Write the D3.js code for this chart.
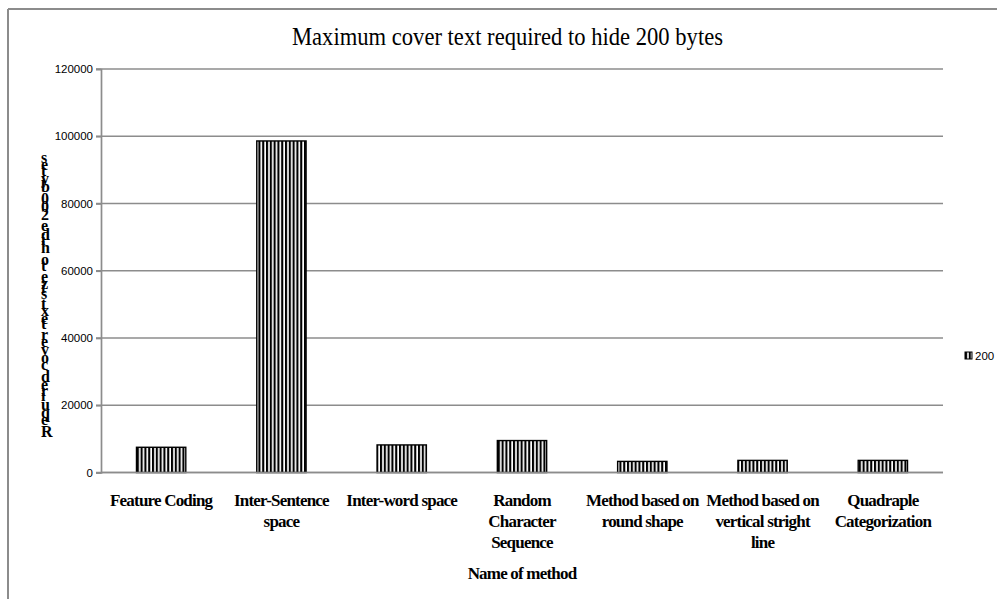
<!DOCTYPE html>
<html>
<head>
<meta charset="utf-8">
<script src="https://cdn.jsdelivr.net/npm/d3@7"></script>
<style>
  body { margin: 0; background: #fff; }
  svg { display: block; }
</style>
</head>
<body>
<script>
// chart data
let categories = [
  'Feature Coding',
  'Inter-Sentence space',
  'Inter-word space',
  'Random Character Sequence',
  'Method based on round shape',
  'Method based on vertical stright line',
  'Quadraple Categorization'
];
let labelLines = [
  ['Feature Coding'],
  ['Inter-Sentence', 'space'],
  ['Inter-word space'],
  ['Random', 'Character', 'Sequence'],
  ['Method based on', 'round shape'],
  ['Method based on', 'vertical stright', 'line'],
  ['Quadraple', 'Categorization']
];
let values = [7500, 98600, 8200, 9500, 3300, 3600, 3600];
let yTicks = [0, 20000, 40000, 60000, 80000, 100000, 120000];
let seriesName = '200';

let width = 997, height = 599;
let margin = {top: 69, right: 54, bottom: 126.5, left: 101};

let serif = 'Liberation Serif, Times New Roman, serif';
let sans = 'Liberation Sans, Arial, sans-serif';

let svg = d3.select('body').append('svg')
  .attr('width', width)
  .attr('height', height);

// stripe pattern
let defs = svg.append('defs');
let pat = defs.append('pattern')
  .attr('id', 'stripes')
  .attr('patternUnits', 'userSpaceOnUse')
  .attr('width', 3.8)
  .attr('height', 10);
pat.append('rect').attr('width', 3.8).attr('height', 10).attr('fill', '#fff');
pat.append('rect').attr('x', 0).attr('width', 2.1).attr('height', 10).attr('fill', '#000');

// outer frame (top and left edges visible)
svg.append('line').attr('x1', 8).attr('x2', width).attr('y1', 9).attr('y2', 9)
  .attr('stroke', '#8c8c8c').attr('stroke-width', 2);
svg.append('line').attr('x1', 8).attr('x2', 8).attr('y1', 9).attr('y2', height)
  .attr('stroke', '#8c8c8c').attr('stroke-width', 2);

let x = d3.scaleBand()
  .domain(categories)
  .range([margin.left, width - margin.right])
  .paddingInner(0.59)
  .paddingOuter(0.295);

let y = d3.scaleLinear()
  .domain([0, 120000])
  .range([height - margin.bottom, margin.top]);

// gridlines
svg.append('g')
  .selectAll('line')
  .data(yTicks)
  .enter().append('line')
  .attr('x1', margin.left - 5)
  .attr('x2', width - margin.right)
  .attr('y1', d => y(d))
  .attr('y2', d => y(d))
  .attr('stroke', '#8c8c8c')
  .attr('stroke-width', 1.7);

// y axis
let yAxis = svg.append('g')
  .attr('transform', 'translate(' + margin.left + ',0)')
  .call(d3.axisLeft(y).tickValues(yTicks).tickSize(5).tickPadding(3).tickFormat(d3.format('d')));
yAxis.select('.domain').attr('stroke', '#8c8c8c').attr('stroke-width', 1.7);
yAxis.selectAll('.tick line').attr('stroke', '#8c8c8c').attr('stroke-width', 1.7);
yAxis.selectAll('text')
  .attr('font-family', sans)
  .attr('font-size', 11.5)
  .attr('fill', '#000');

// bars
svg.append('g')
  .selectAll('rect')
  .data(values)
  .enter().append('rect')
  .attr('x', (d, i) => x(categories[i]))
  .attr('y', d => y(d))
  .attr('width', x.bandwidth())
  .attr('height', d => y(0) - y(d))
  .attr('fill', 'url(#stripes)')
  .attr('stroke', '#000')
  .attr('stroke-width', 1.4);

// x axis line
svg.append('line')
  .attr('x1', margin.left).attr('x2', width - margin.right)
  .attr('y1', y(0)).attr('y2', y(0))
  .attr('stroke', '#8c8c8c').attr('stroke-width', 1.7);

// category labels
let labels = svg.append('g')
  .selectAll('text')
  .data(categories)
  .enter().append('text')
  .attr('x', d => x(d) + x.bandwidth() / 2)
  .attr('y', 506)
  .attr('text-anchor', 'middle')
  .attr('font-family', serif)
  .attr('font-weight', 'bold')
  .attr('font-size', 17)
  .attr('letter-spacing', -0.8);
labels.each(function(d, i) {
  d3.select(this).selectAll('tspan')
    .data(labelLines[i])
    .enter().append('tspan')
    .attr('x', x(d) + x.bandwidth() / 2)
    .attr('dy', (t, j) => j === 0 ? 0 : 21)
    .text(t => t);
});

// x axis title
svg.append('text')
  .attr('x', 522).attr('y', 579)
  .attr('text-anchor', 'middle')
  .attr('font-family', serif)
  .attr('font-weight', 'bold')
  .attr('font-size', 17)
  .attr('letter-spacing', -0.8)
  .text('Name of method');

// y axis title: rotated text with each glyph turned back upright
let yTitle = 'Required cover text size to hide 200 bytes';
svg.append('text')
  .attr('transform', 'translate(41,437) rotate(-90)')
  .attr('rotate', 90)
  .attr('font-family', serif)
  .attr('font-weight', 'bold')
  .attr('font-size', 16)
  .attr('textLength', 280)
  .attr('lengthAdjust', 'spacing')
  .text(yTitle);

// title
svg.append('text')
  .attr('x', 292).attr('y', 45)
  .attr('font-family', serif)
  .attr('font-size', 25)
  .attr('textLength', 431)
  .attr('lengthAdjust', 'spacingAndGlyphs')
  .text('Maximum cover text required to hide 200 bytes');

// legend
let legend = svg.append('g').attr('transform', 'translate(965,352)');
legend.append('rect')
  .attr('width', 7).attr('height', 7)
  .attr('fill', 'url(#stripes)')
  .attr('stroke', '#000').attr('stroke-width', 1);
legend.append('text')
  .attr('x', 10).attr('y', 8)
  .attr('font-family', sans)
  .attr('font-size', 11.5)
  .text(seriesName);
</script>
</body>
</html>
